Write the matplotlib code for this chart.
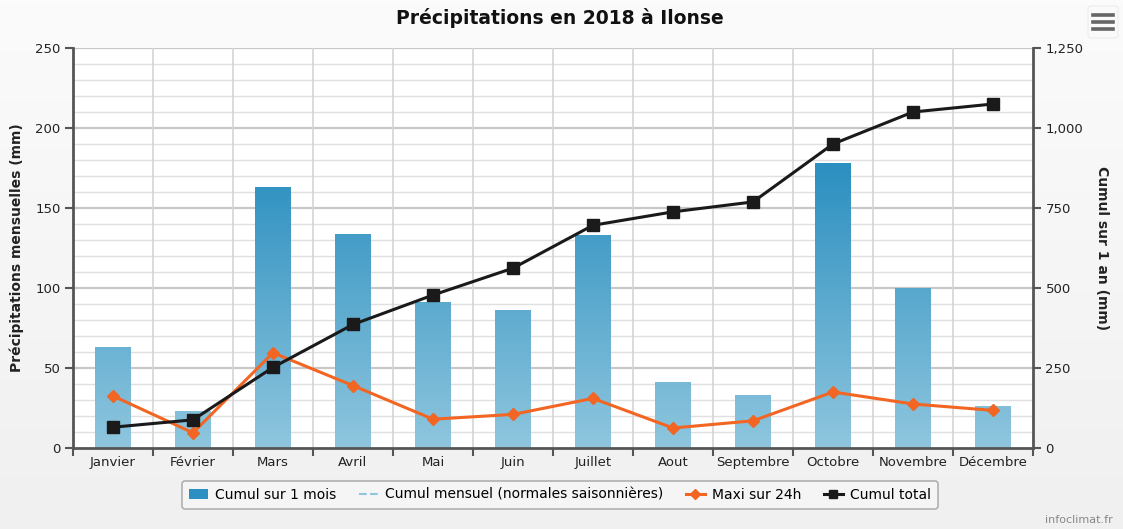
import matplotlib
matplotlib.use("Agg")
import matplotlib.pyplot as plt
import numpy as np
from matplotlib.patches import FancyBboxPatch, Rectangle
from matplotlib.lines import Line2D
from matplotlib.ticker import FuncFormatter, MultipleLocator

months = ["Janvier", "Février", "Mars", "Avril", "Mai", "Juin", "Juillet",
          "Aout", "Septembre", "Octobre", "Novembre", "Décembre"]
cumul_mois = [63, 23, 163, 134, 91, 86, 133, 41, 33, 179, 100, 26]
maxi_24h = [32.5, 9.5, 59.5, 39, 18, 21, 31, 12.5, 17, 35, 27.5, 23.5]
cumul_total = [65, 88, 252, 386, 478, 562, 696, 738, 769, 950, 1050, 1075]

W, H = 1123, 529
fig = plt.figure(figsize=(W / 100, H / 100), dpi=100)
fig.patch.set_facecolor("#f3f3f3")
bg = fig.add_axes([0, 0, 1, 1], zorder=-10)
grad = np.linspace(1, 0, 100).reshape(-1, 1)
bg.imshow(grad, aspect="auto", cmap=matplotlib.colors.LinearSegmentedColormap.from_list(
    "g", ["#f0f0f0", "#fbfbfb"]), extent=[0, 1, 0, 1])
bg.set_axis_off()

ax = fig.add_axes([73 / W, (H - 448) / H, 960 / W, 400 / H])
ax.set_facecolor("white")
x = np.arange(len(months))

for v in range(10, 250, 10):
    major = v % 50 == 0
    ax.axhline(v, color="#c8c8c8" if major else "#e0e0e0", lw=1.6 if major else 1.0, zorder=0)
ax.axhline(250, color="#c8c8c8", lw=1.6, zorder=0)
for b in np.arange(0.5, len(months) - 0.5, 1):
    ax.axvline(b, color="#d4d4d4", lw=1.2, zorder=0)

cmap = matplotlib.colors.LinearSegmentedColormap.from_list("b", ["#8fc6de", "#2b8fc0"])
bars = ax.bar(x, cumul_mois, width=0.45, color="none", zorder=2)
for bar in bars:
    xb, w = bar.get_x(), bar.get_width()
    im = ax.imshow(np.linspace(0, 1, 256).reshape(-1, 1), cmap=cmap, origin="lower",
                   extent=[xb, xb + w, 0, 178], aspect="auto", zorder=2,
                   vmin=0, vmax=1)
    im.set_clip_path(bar)
ax.set_xlim(-0.5, len(months) - 0.5)
ax.set_ylim(0, 250)

ax.plot(x, maxi_24h, color="#f26522", lw=2.2, marker="D", ms=6, zorder=4)

ax2 = ax.twinx()
ax2.set_ylim(0, 1250)
ax2.plot(x, cumul_total, color="#1a1a1a", lw=2.2, marker="s", ms=8, zorder=5)

for a in (ax, ax2):
    for s in a.spines.values():
        s.set_visible(False)
for a, side in ((ax, "left"), (ax, "bottom"), (ax2, "right")):
    a.spines[side].set_visible(True)
    a.spines[side].set_color("#555555")
    a.spines[side].set_linewidth(2)

ax.yaxis.set_major_locator(MultipleLocator(50))
ax.tick_params(axis="y", direction="out", length=6, width=1.5, color="#555555",
               labelsize=9.5, pad=3, labelcolor="#222222")
ax.set_xticks(x)
ax.set_xticklabels(months, fontsize=9.5, color="#222222")
ax.tick_params(axis="x", length=0, pad=6)
ax.set_xticks(np.arange(-0.5, len(months), 1), minor=True)
ax.tick_params(axis="x", which="minor", length=6, width=1.5, color="#555555", direction="out")

ax2.yaxis.set_major_locator(MultipleLocator(250))
ax2.yaxis.set_major_formatter(FuncFormatter(lambda v, p: f"{int(v):,}"))
ax2.tick_params(axis="y", direction="out", length=6, width=1.5, color="#555555",
                labelsize=9.5, pad=3, labelcolor="#222222")

ax.set_ylabel("Précipitations mensuelles (mm)", fontsize=10, fontweight="bold",
              color="#222222", labelpad=8)
ax2.set_ylabel("Cumul sur 1 an (mm)", fontsize=10, fontweight="bold",
               color="#222222", rotation=-90, labelpad=18)

fig.text(560 / W, 1 - 18 / H, "Précipitations en 2018 à Ilonse", ha="center", va="center",
         fontsize=13.5, fontweight="bold", color="#111111")

fig.patches.append(FancyBboxPatch((1088 / W, 1 - 38 / H), 30 / W, 32 / H,
                                  boxstyle="round,pad=0,rounding_size=0.004",
                                  transform=fig.transFigure, facecolor="#fafafa",
                                  edgecolor="#ececec", lw=0.8))
for yy in (15, 22, 29):
    fig.lines.append(Line2D([1093 / W, 1113 / W], [1 - yy / H, 1 - yy / H],
                            transform=fig.transFigure, color="#666666", lw=2.6))

handles = [
    Rectangle((0, 0), 1, 1, facecolor="#2c8fc1", edgecolor="none"),
    Line2D([], [], color="#8fc6de", lw=1.5, ls="--"),
    Line2D([], [], color="#f26522", lw=2.2, marker="D", ms=5),
    Line2D([], [], color="#1a1a1a", lw=2.2, marker="s", ms=6),
]
labels = ["Cumul sur 1 mois", "Cumul mensuel (normales saisonnières)",
          "Maxi sur 24h", "Cumul total"]
leg = fig.legend(handles, labels, loc="center", bbox_to_anchor=(560 / W, 1 - 495 / H),
                 ncol=4, fontsize=10, frameon=True, fancybox=True, handlelength=1.4,
                 handletextpad=0.5, columnspacing=1.6, borderpad=0.5)
leg.get_frame().set_edgecolor("#a0a0a0")
leg.get_frame().set_facecolor("#f7f7f7")
leg.get_frame().set_linewidth(1.2)

fig.text(1113 / W, 1 - 520 / H, "infoclimat.fr", ha="right", va="center",
         fontsize=8, color="#888888")

fig.savefig("out.png", dpi=100, facecolor=fig.get_facecolor())
